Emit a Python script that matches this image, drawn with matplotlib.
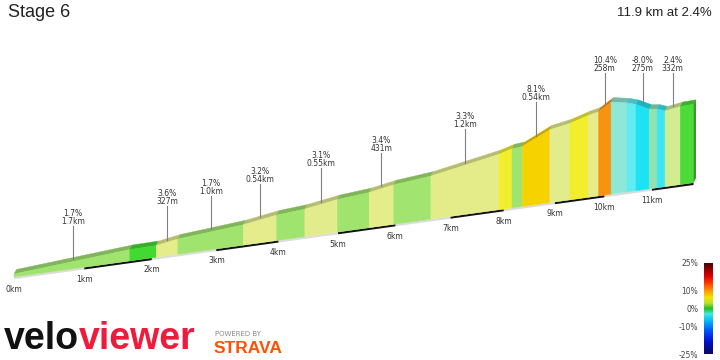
import numpy as np
import matplotlib
matplotlib.use("Agg")
import matplotlib.pyplot as plt
from matplotlib.colors import LinearSegmentedColormap, Normalize, to_rgb
from matplotlib.cm import ScalarMappable

# --- Данные профиля ---
stage_title = "Stage 6"
stage_summary = "11.9 km at 2.4%"
seg_end_km = [1.67, 2.07, 2.40, 3.43, 3.97, 4.44, 4.99, 5.54, 5.97, 6.64, 7.91, 8.16, 8.36,
              8.90, 9.30, 9.67, 9.88, 10.14, 10.47, 10.66, 10.94, 11.11, 11.28, 11.61, 11.90]
seg_grad = [1.7, 0.3, 3.6, 1.7, 3.2, 1.5, 3.1, 1.6, 3.4, 1.8, 3.3, 5.0, 1.5,
            8.1, 3.0, 5.0, 3.5, 10.4, -3.0, -5.0, -8.0, -2.0, -6.0, 2.4, 0.5]
seg_labels = {0: ("1.7%", "1.7km"), 2: ("3.6%", "327m"), 3: ("1.7%", "1.0km"),
              4: ("3.2%", "0.54km"), 6: ("3.1%", "0.55km"), 8: ("3.4%", "431m"),
              10: ("3.3%", "1.2km"), 13: ("8.1%", "0.54km"), 17: ("10.4%", "258m"),
              20: ("-8.0%", "275m"), 23: ("2.4%", "332m")}
km_ticks = list(range(12))
cbar_ticks = [25, 10, 0, -10, -25]

# --- Цвета ---
face_grad = [-8, -6, -5, -3, -2, 0, 0.5, 1.2, 1.9, 2.4, 2.8, 3.7, 5, 8.1, 10.4]
face_cols = ['#1ee2f2', '#3ce6f4', '#62ecf0', '#8ee8d6', '#8ee2b4', '#3ad82a', '#48dc36',
             '#9de46c', '#a2e470', '#d2ec92', '#e2ec8e', '#e6ec88', '#f2ee2c', '#f6d400', '#f69410']
bar_grad = [-25, -18, -12, -7, -3, 0, 3, 6, 10, 14, 18, 25]
bar_cols = ['#0a0a5a', '#0010d0', '#0058f8', '#00b4f8', '#40e8e0', '#22c022',
            '#b8e030', '#f2e400', '#ff9400', '#ff3800', '#d80000', '#500000']

def make_cmap(vals, cols):
    lo, hi = vals[0], vals[-1]
    return LinearSegmentedColormap.from_list("c", [((v - lo) / (hi - lo), c) for v, c in zip(vals, cols)]), lo, hi

face_cmap, f_lo, f_hi = make_cmap(face_grad, face_cols)
bar_cmap, _, _ = make_cmap(bar_grad, bar_cols)

def face_color(g):
    return face_cmap((g - f_lo) / (f_hi - f_lo))

def shade(c, k):
    r, g, b = to_rgb(c)
    return (r * k, g * k, b * k)

# --- Перспектива ---
def px(d): return (14 + 72.12 * d) / (1 + 0.02166 * d)
def base_y(x): return 277 - 0.1387 * (x - 14)
def top_y(d, e):
    x = px(d)
    return base_y(x) - (3 + 0.295 * e)
DX, DY = 2.5, 4.5

dist = np.array([0.0] + seg_end_km)
elev = np.concatenate([[0.0], np.cumsum(np.diff(dist) * np.array(seg_grad) * 10)])

fig = plt.figure(figsize=(7.2, 3.6), dpi=100)
ax = fig.add_axes([0, 0, 1, 1])
ax.set_xlim(0, 720); ax.set_ylim(360, 0); ax.axis('off')

# нижняя кромка
xs, xe = px(0), px(dist[-1])
ax.fill([xs, xe, xe, xs], [base_y(xs), base_y(xe), base_y(xe) + 2.2, base_y(xs) + 2.2], color='#dcdcdc', lw=0)
for k in range(1, 12, 2):
    a, b = px(k), px(min(k + 1, dist[-1]))
    ax.fill([a, b, b, a], [base_y(a), base_y(b), base_y(b) + 2.2, base_y(a) + 2.2], color='#111111', lw=0)

# сегменты
for i, g in enumerate(seg_grad):
    d0, d1 = dist[i], dist[i + 1]
    x0, x1 = px(d0), px(d1)
    t0, t1 = top_y(d0, elev[i]), top_y(d1, elev[i + 1])
    col = face_color(g)
    ax.fill([x0, x1, x1 + DX, x0 + DX], [t0, t1, t1 - DY, t0 - DY], color=shade(col, 0.8), lw=0.3, ec=shade(col, 0.8))
    ax.fill([x0, x1, x1, x0], [base_y(x0), base_y(x1), t1, t0], color=col, lw=0.3, ec=col)
# торец справа
xe, te = px(dist[-1]), top_y(dist[-1], elev[-1])
ax.fill([xe, xe + DX, xe + DX, xe], [base_y(xe), base_y(xe) - DY, te - DY, te],
        color=shade(face_color(seg_grad[-1]), 0.7), lw=0)

# подписи км
for k in km_ticks:
    x = px(k)
    ax.text(x, base_y(x) + 12, f"{k}km", fontsize=5.5, color='#333333', ha='center', va='center')

# подписи подъёмов
for i, (l1, l2) in seg_labels.items():
    dm = (dist[i] + dist[i + 1]) / 2
    em = np.interp(dm, dist, elev)
    x = px(dm)
    yt = top_y(dm, em) - DY
    y2 = max(yt - 36, 68.5)
    ax.plot([x, x], [y2 + 4.5, yt + 2], color='#808080', lw=0.8)
    ax.text(x, y2, l2, fontsize=5.5, color='#333333', ha='center', va='center')
    ax.text(x, y2 - 8, l1, fontsize=5.5, color='#333333', ha='center', va='center')

# заголовки
ax.text(8, 17, stage_title, fontsize=13, family='Liberation Sans', color='#222222', va='baseline')
ax.text(712, 16.5, stage_summary, fontsize=9.5, family='Liberation Sans', color='#222222', ha='right', va='baseline')

# логотипы
velo = ax.text(4, 349, "velo", fontsize=27, family='Liberation Sans', weight='bold', color='#111111', va='baseline')
ax.annotate("viewer", xy=(1, 0), xycoords=velo, fontsize=27, family='Liberation Sans', weight='bold',
            color='#ee1c3c', va='bottom', ha='left')
ax.text(215, 334, "POWERED BY", fontsize=5, color='#8a8a8a', va='center')
ax.text(214, 353, "STRAVA", fontsize=12.5, family='Liberation Sans', weight='bold', color='#fc5200', va='baseline')

# шкала уклона
cax = fig.add_axes([704 / 720, 6 / 360, 9 / 720, 91 / 360])
cb = fig.colorbar(ScalarMappable(Normalize(-25, 25), bar_cmap), cax=cax)
cb.outline.set_visible(False)
cb.set_ticks(cbar_ticks)
cb.set_ticklabels([f"{t}%" for t in cbar_ticks])
cax.yaxis.set_ticks_position('left')
cax.tick_params(length=0, pad=4, labelsize=5.5, labelcolor='#444444')

fig.savefig("out.png", dpi=100, facecolor='white')
